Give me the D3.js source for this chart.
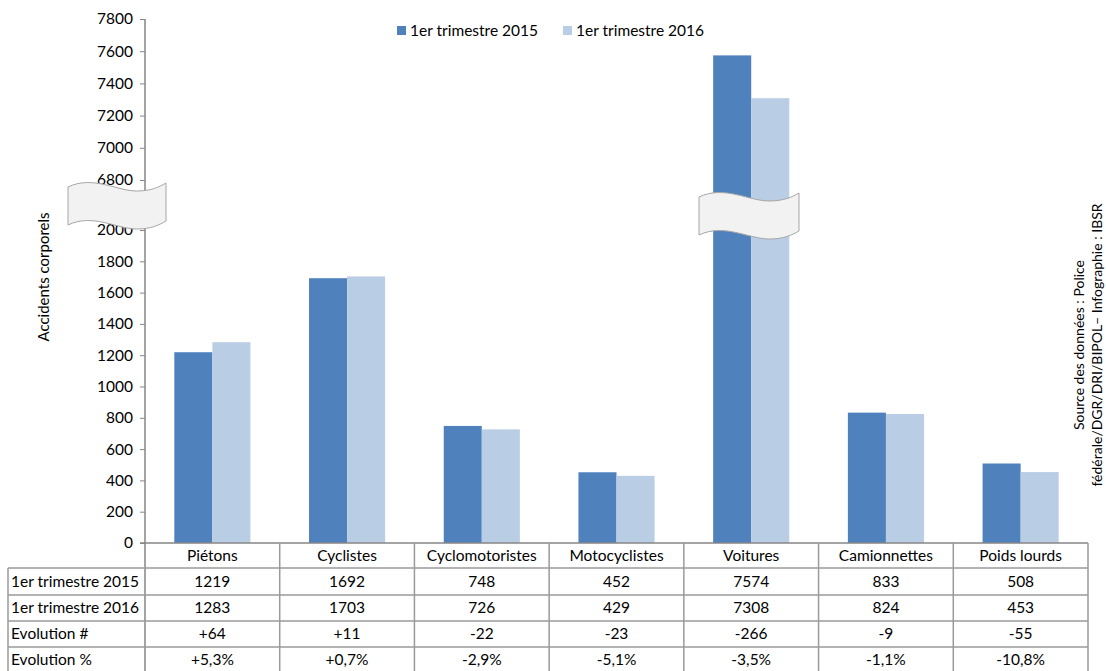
<!DOCTYPE html>
<html>
<head>
<meta charset="utf-8">
<script src="https://cdn.jsdelivr.net/npm/d3@7"></script>
<style>
  body { margin: 0; background: #fff; }
  svg { display: block; font-family: Lato, "Liberation Sans", sans-serif; }
</style>
</head>
<body>
<div id="chart"></div>
<script>
// data
const categories = ["Piétons", "Cyclistes", "Cyclomotoristes", "Motocyclistes", "Voitures", "Camionnettes", "Poids lourds"]
const series = ["1er trimestre 2015", "1er trimestre 2016"]
const t2015 = [1219, 1692, 748, 452, 7574, 833, 508]
const t2016 = [1283, 1703, 726, 429, 7308, 824, 453]
const evolNum = ["+64", "+11", "-22", "-23", "-266", "-9", "-55"]
const evolPct = ["+5,3%", "+0,7%", "-2,9%", "-5,1%", "-3,5%", "-1,1%", "-10,8%"]
const lowTicks = [0, 200, 400, 600, 800, 1000, 1200, 1400, 1600, 1800, 2000]
const highTicks = [6800, 7000, 7200, 7400, 7600, 7800]
const breakAt = 2000

const colors = ["#4f81bd", "#b9cde5"]
const lineCol = "#9a9a9a"
const W = 1106, H = 671
const left = 145, right = 1088, base = 543

const svg = d3.select("#chart").append("svg")
    .attr("width", W)
    .attr("height", H)

// broken axis: two linear pieces
const yLow = d3.scaleLinear().domain([0, 2000]).range([base, 230])
const yHigh = d3.scaleLinear().domain([6800, 7800]).range([180, 19])
const y = v => v > breakAt ? yHigh(v) : yLow(v)

const x = d3.scaleBand().domain(categories).range([left, right]).paddingInner(0.435).paddingOuter(0.2175)
const col = d3.scaleBand().domain(categories).range([left, right])
const xs = d3.scaleBand().domain(series).range([0, x.bandwidth()])

// bars
const rows = categories.map((c, i) => ({cat: c, vals: [t2015[i], t2016[i]]}))
const grp = svg.append("g").selectAll("g")
    .data(rows)
    .enter()
    .append("g")
    .attr("transform", d => `translate(${x(d.cat)},0)`)

grp.selectAll("rect")
    .data(d => d.vals.map((v, k) => ({s: series[k], v: v, k: k})))
    .enter()
    .append("rect")
    .attr("x", d => xs(d.s))
    .attr("y", d => y(d.v))
    .attr("width", xs.bandwidth())
    .attr("height", d => base - y(d.v))
    .attr("fill", d => colors[d.k])

// y axes
const axLow = d3.axisLeft(yLow).tickValues(lowTicks).tickFormat(d3.format("d")).tickSize(5).tickPadding(7)
const axHigh = d3.axisLeft(yHigh).tickValues(highTicks).tickFormat(d3.format("d")).tickSize(5).tickPadding(7)
for (const ax of [axLow, axHigh]) {
    const g = svg.append("g")
        .attr("transform", `translate(${left},0)`)
        .call(ax)
    g.select(".domain").remove()
    g.selectAll("line").attr("stroke", "#868686")
    g.selectAll("text").attr("font-size", "15.5px").attr("fill", "#000").attr("font-family", "Lato")
}
svg.append("line")
    .attr("x1", left).attr("x2", left)
    .attr("y1", 19).attr("y2", H)
    .attr("stroke", "#868686").attr("stroke-width", 1.5)

// wavy break marks
function breakMark(x0, x1, yTop, h) {
    const w = x1 - x0
    const p = d3.path()
    p.moveTo(x0, yTop + 4)
    p.bezierCurveTo(x0 + w * 0.25, yTop - 8, x0 + w * 0.5, yTop + 8, x0 + w * 0.7, yTop + 8)
    p.bezierCurveTo(x0 + w * 0.85, yTop + 8, x0 + w * 0.93, yTop + 4, x1, yTop)
    p.lineTo(x1, yTop + h)
    p.bezierCurveTo(x0 + w * 0.93, yTop + h + 4, x0 + w * 0.85, yTop + h + 8, x0 + w * 0.7, yTop + h + 8)
    p.bezierCurveTo(x0 + w * 0.5, yTop + h + 8, x0 + w * 0.25, yTop + h - 8, x0, yTop + h + 4)
    p.closePath()
    svg.append("path")
        .attr("d", p.toString())
        .attr("fill", "#f2f2f2")
        .attr("stroke", "#a6a6a6")
        .attr("stroke-width", 1)
}
breakMark(68, 166, 183, 38)
breakMark(699, 799, 193, 38)

// legend
const leg = svg.append("g").attr("font-size", "15.5px")
const legX = [397, 563]
series.forEach((s, k) => {
    leg.append("rect")
        .attr("x", legX[k]).attr("y", 26)
        .attr("width", 9).attr("height", 9)
        .attr("fill", colors[k])
    leg.append("text")
        .attr("x", legX[k] + 13).attr("y", 36)
        .text(s)
})

// axis titles
svg.append("text")
    .attr("transform", "translate(49,277) rotate(-90)")
    .attr("text-anchor", "middle")
    .attr("font-size", "15px")
    .text("Accidents corporels")
svg.append("text")
    .attr("transform", "translate(1084,345) rotate(-90)")
    .attr("text-anchor", "middle")
    .attr("font-size", "14px")
    .text("Source des données : Police")
svg.append("text")
    .attr("transform", "translate(1102,345) rotate(-90)")
    .attr("text-anchor", "middle")
    .attr("font-size", "14px")
    .text("fédérale/DGR/DRI/BIPOL– Infographie : IBSR")

// data table
const rowY = [543, 568, 595, 621, 647, 673]
const tbl = svg.append("g")
    .attr("stroke", lineCol)
    .attr("stroke-width", 1.5)
// horizontal lines
tbl.append("line").attr("x1", left - 5).attr("x2", right).attr("y1", base).attr("y2", base).attr("stroke", "#868686")
rowY.slice(1).forEach(yy => {
    tbl.append("line").attr("x1", 8).attr("x2", right).attr("y1", yy).attr("y2", yy)
})
// vertical lines
tbl.append("line").attr("x1", 8).attr("x2", 8).attr("y1", rowY[1]).attr("y2", H)
categories.forEach(c => {
    const xx = col(c) + col.bandwidth()
    tbl.append("line").attr("x1", xx).attr("x2", xx).attr("y1", base).attr("y2", H)
})

const tableRows = [
    {label: "", cells: categories},
    {label: series[0], cells: t2015},
    {label: series[1], cells: t2016},
    {label: "Evolution #", cells: evolNum},
    {label: "Evolution %", cells: evolPct}
]
const txt = svg.append("g").attr("font-size", "15.5px")
tableRows.forEach((r, i) => {
    const cy = (rowY[i] + rowY[i + 1]) / 2 + 5
    if (r.label) {
        txt.append("text").attr("x", 11).attr("y", cy).text(r.label)
    }
    r.cells.forEach((v, j) => {
        txt.append("text")
            .attr("x", col(categories[j]) + col.bandwidth() / 2)
            .attr("y", cy)
            .attr("text-anchor", "middle")
            .text(v)
    })
})
</script>
</body>
</html>
